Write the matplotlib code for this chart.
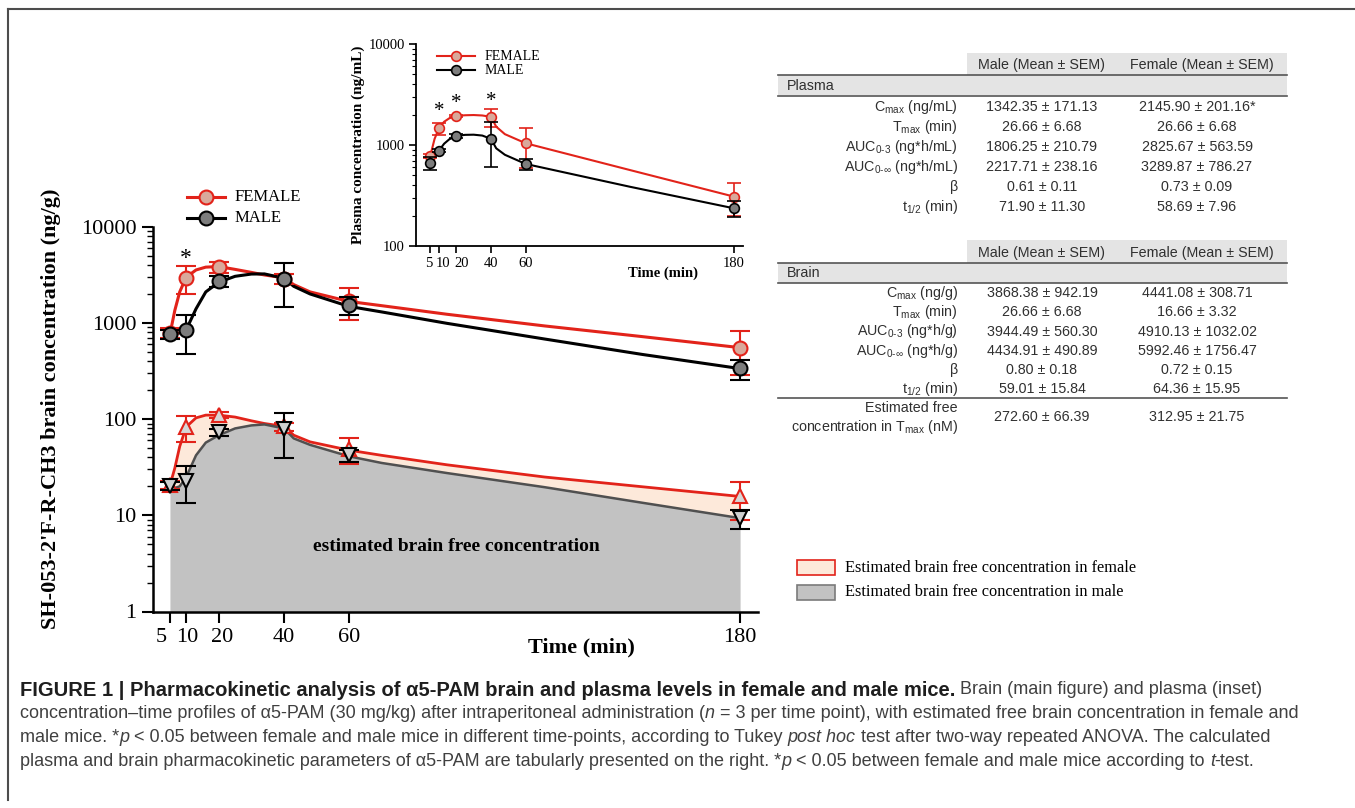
import numpy as np
import matplotlib.pyplot as plt
from matplotlib.patches import Rectangle
from matplotlib.lines import Line2D
from matplotlib.transforms import ScaledTranslation

plt.rcParams['font.family'] = 'Liberation Serif'
plt.rcParams['mathtext.fontset'] = 'custom'
plt.rcParams['mathtext.rm'] = 'Liberation Sans'
plt.rcParams['mathtext.it'] = 'Liberation Sans:italic'
plt.rcParams['mathtext.bf'] = 'Liberation Sans:bold'

W, H = 1355, 808

# brain (main figure), mean and SEM
t = [5, 10, 20, 40, 60, 180]
brain_f = [790, 2940, 3800, 2850, 1700, 551]
brain_f_sem = [90, 930, 475, 340, 620, 265]
brain_m = [760, 840, 2700, 2840, 1530, 337]
brain_m_sem = [80, 360, 360, 1390, 330, 79]
free_f = [20.7, 82, 110, 84, 48.5, 15.7]
free_f_sem = [2, 24.5, 8, 8, 14.5, 6.7]
free_m = [20.2, 23, 72.8, 78, 42, 9.3]
free_m_sem = [2, 9.7, 6, 38.5, 6, 2.1]

# fitted curves of the main figure
fit_t = [5, 6.5, 8, 10, 13, 16, 20, 25, 30, 34, 40, 43, 48, 60, 70, 90, 120, 150, 180]
fit_brain_f = [760, 1350, 2100, 2985, 3550, 3800, 3850, 3600, 3350, 3150, 2940, 2500, 2100, 1670, 1510, 1230, 930, 720, 553]
fit_brain_m = [745, 760, 790, 850, 1400, 2100, 2650, 3050, 3220, 3230, 2915, 2400, 2000, 1483, 1300, 990, 680, 470, 335]
fit_free_f = [20.5, 31, 52, 83, 103, 110, 110, 105, 96, 90, 84, 68, 58, 47.5, 42, 33.5, 25, 19.8, 15.7]
fit_free_m = [18.8, 19.2, 20, 25, 42, 57, 68, 80, 86, 88, 80, 63, 54, 41, 35, 27.5, 19.6, 13.5, 9.35]

# plasma (inset)
plasma_f = [778, 1462, 1937, 1880, 1040, 308]
plasma_f_sem = [40, 205, 60, 370, 450, 110]
plasma_m = [668, 879, 1228, 1146, 649, 236]
plasma_m_sem = [96, 35, 50, 535, 82, 42]
fit_pt = [5, 7.5, 10, 13, 16, 20, 25, 30, 35, 40, 43, 48, 60, 120, 180]
fit_plasma_f = [778, 1150, 1462, 1700, 1840, 1937, 1970, 1980, 1960, 1900, 1518, 1280, 1040, 565, 308]
fit_plasma_m = [668, 760, 879, 1030, 1140, 1228, 1260, 1265, 1240, 1150, 927, 800, 649, 386, 236]

# tables
plasma_par = ['C$_{\\mathrm{max}}$ (ng/mL)', 'T$_{\\mathrm{max}}$ (min)', 'AUC$_{\\mathrm{0\u20103}}$ (ng*h/mL)',
              'AUC$_{\\mathrm{0\u2010}\\infty}$ (ng*h/mL)', '\u03b2', 't$_{\\mathrm{1/2}}$ (min)']
plasma_male = ['1342.35 \u00b1 171.13', '26.66 \u00b1 6.68', '1806.25 \u00b1 210.79', '2217.71 \u00b1 238.16',
               '0.61 \u00b1 0.11', '71.90 \u00b1 11.30']
plasma_female = ['2145.90 \u00b1 201.16*', '26.66 \u00b1 6.68', '2825.67 \u00b1 563.59', '3289.87 \u00b1 786.27',
                 '0.73 \u00b1 0.09', '58.69 \u00b1 7.96']
brain_par = ['C$_{\\mathrm{max}}$ (ng/g)', 'T$_{\\mathrm{max}}$ (min)', 'AUC$_{\\mathrm{0\u20103}}$ (ng*h/g)',
             'AUC$_{\\mathrm{0\u2010}\\infty}$ (ng*h/g)', '\u03b2', 't$_{\\mathrm{1/2}}$ (min)']
brain_male = ['3868.38 \u00b1 942.19', '26.66 \u00b1 6.68', '3944.49 \u00b1 560.30', '4434.91 \u00b1 490.89',
              '0.80 \u00b1 0.18', '59.01 \u00b1 15.84']
brain_female = ['4441.08 \u00b1 308.71', '16.66 \u00b1 3.32', '4910.13 \u00b1 1032.02', '5992.46 \u00b1 1756.47',
                '0.72 \u00b1 0.15', '64.36 \u00b1 15.95']
free_male = '272.60 \u00b1 66.39'
free_female = '312.95 \u00b1 21.75'

RED = '#e2231a'
F_FACE = '#d9a99b'
M_FACE = '#7d7d7d'
PEACH = '#fde9da'
GRAY = '#c2c2c2'


def fx(x):
    return x / W


def fy(y):
    return 1 - y / H


def shift_labels(axis, offsets):
    # nudge single tick labels sideways, in pixels
    for tick, dx in zip(axis.get_major_ticks(), offsets):
        lab = tick.label1
        lab.set_transform(lab.get_transform() + ScaledTranslation(dx / 100, 0, fig.dpi_scale_trans))


fig = plt.figure(figsize=(W / 100, H / 100), dpi=100)

# ---- main axes
ax = fig.add_axes([fx(153), fy(611.5), fx(758 - 153), (611.5 - 226.7) / H])
ax.set_yscale('log')
ax.set_ylim(1, 10000)
ax.set_xlim(-0.2, 185.5)

ax.fill_between(fit_t, fit_free_m, fit_free_f, color=PEACH, lw=0, zorder=1)
ax.fill_between(fit_t, 1, fit_free_m, color=GRAY, lw=0, zorder=1.5)
ax.plot(fit_t, fit_free_f, color=RED, lw=2, zorder=2)
ax.plot(fit_t, fit_free_m, color='#505050', lw=1.8, zorder=2)
ax.errorbar(t, free_f, yerr=free_f_sem, fmt='none', ecolor=RED, elinewidth=1.5, capsize=7, capthick=1.5, zorder=3)
ax.plot(t, free_f, '^', ls='none', mfc='#d6d6d6', mec=RED, mew=1.5, ms=10, zorder=4)
ax.errorbar(t, free_m, yerr=free_m_sem, fmt='none', ecolor='black', elinewidth=1.5, capsize=7, capthick=1.5, zorder=5)
ax.plot(t, free_m, 'v', ls='none', mfc='#cfcfcf', mec='black', mew=1.5, ms=10, zorder=6)

ax.plot(fit_t, fit_brain_f, color=RED, lw=2.2, zorder=2)
ax.plot(fit_t, fit_brain_m, color='black', lw=2.2, zorder=2)
ax.errorbar(t, brain_f, yerr=brain_f_sem, fmt='none', ecolor=RED, elinewidth=1.5, capsize=7, capthick=1.5, zorder=3)
ax.plot(t, brain_f, 'o', ls='none', mfc=F_FACE, mec=RED, mew=1.5, ms=10, zorder=4)
ax.errorbar(t, brain_m, yerr=brain_m_sem, fmt='none', ecolor='black', elinewidth=1.5, capsize=7, capthick=1.5, zorder=5)
ax.plot(t, brain_m, 'o', ls='none', mfc=M_FACE, mec='black', mew=1.5, ms=10, zorder=6)

ax.text(10, 4700, '*', ha='center', va='center', fontsize=17)
ax.text(93, 4.7, 'estimated brain free concentration', ha='center', va='center',
        fontsize=14, fontweight='bold')

for s in ['top', 'right']:
    ax.spines[s].set_visible(False)
for s in ['left', 'bottom']:
    ax.spines[s].set_linewidth(1.8)
ax.set_xticks(t)
ax.set_xticklabels([str(v) for v in t])
ax.set_yticks([1, 10, 100, 1000, 10000])
ax.set_yticklabels(['1', '10', '100', '1000', '10000'])
ax.tick_params(which='major', direction='out', length=8, width=1.5, labelsize=16, pad=4)
ax.tick_params(which='minor', direction='out', length=4, width=1)
ax.tick_params(axis='x', which='minor', bottom=False)
shift_labels(ax.xaxis, [-9, 1, 3, 0, 0, 0])

fig.text(fx(51), fy(409), "SH-053-2'F-R-CH3 brain concentration (ng/g)", rotation=90,
         ha='center', va='center', fontsize=16, fontweight='bold')
fig.text(fx(581), fy(647), 'Time (min)', ha='center', va='center', fontsize=16, fontweight='bold')

# main legend
for yy, col, face, lab in [(197, RED, F_FACE, 'FEMALE'), (218, 'black', M_FACE, 'MALE')]:
    fig.add_artist(Line2D([fx(187), fx(225)], [fy(yy), fy(yy)], color=col, lw=2.2))
    fig.add_artist(Line2D([fx(206)], [fy(yy)], marker='o', ms=10, mfc=face, mec=col, mew=1.5))
    fig.text(fx(235), fy(yy), lab, ha='left', va='center', fontsize=12)

# ---- inset
ins = fig.add_axes([fx(416), fy(246), fx(743.3 - 416), (246 - 44) / H])
ins.patch.set_alpha(0)
ins.set_yscale('log')
ins.set_ylim(100, 10000)
ins.set_xlim(-3.2, 185.3)
ins.plot(fit_pt, fit_plasma_f, color=RED, lw=1.5, zorder=2)
ins.plot(fit_pt, fit_plasma_m, color='black', lw=1.5, zorder=2)
ins.errorbar(t, plasma_f, yerr=plasma_f_sem, fmt='none', ecolor=RED, elinewidth=1.2, capsize=5, capthick=1.2, zorder=3)
ins.plot(t, plasma_f, 'o', ls='none', mfc=F_FACE, mec=RED, mew=1.2, ms=7, zorder=4)
ins.errorbar(t, plasma_m, yerr=plasma_m_sem, fmt='none', ecolor='black', elinewidth=1.2, capsize=5, capthick=1.2, zorder=5)
ins.plot(t, plasma_m, 'o', ls='none', mfc=M_FACE, mec='black', mew=1.2, ms=7, zorder=6)
for tx, yv in [(10, 2137), (20, 2547), (40, 2684)]:
    ins.text(tx, yv, '*', ha='center', va='center', fontsize=15)
for s in ['top', 'right']:
    ins.spines[s].set_visible(False)
for s in ['left', 'bottom']:
    ins.spines[s].set_linewidth(1.3)
ins.set_xticks(t)
ins.set_xticklabels([str(v) for v in t])
ins.set_yticks([100, 1000, 10000])
ins.set_yticklabels(['100', '1000', '10000'])
ins.tick_params(which='major', direction='out', length=5, width=1.2, labelsize=10.5, pad=3)
ins.tick_params(which='minor', direction='out', length=3, width=0.8)
ins.tick_params(axis='x', which='minor', bottom=False)
shift_labels(ins.xaxis, [-1, 4, 5, 0, 0, 0])
fig.text(fx(358), fy(145), 'Plasma concentration (ng/mL)', rotation=90, ha='center', va='center',
         fontsize=11, fontweight='bold')
fig.text(fx(663), fy(273), 'Time (min)', ha='center', va='center', fontsize=10.5, fontweight='bold')
for yy, col, face, lab in [(56, RED, F_FACE, 'FEMALE'), (70, 'black', M_FACE, 'MALE')]:
    fig.add_artist(Line2D([fx(437), fx(475)], [fy(yy), fy(yy)], color=col, lw=1.5))
    fig.add_artist(Line2D([fx(456)], [fy(yy)], marker='o', ms=7, mfc=face, mec=col, mew=1.2))
    fig.text(fx(485), fy(yy), lab, ha='left', va='center', fontsize=10)

# ---- fill legend
for yy, face, edge, lab in [(567.5, PEACH, RED, 'Estimated brain free concentration in female'),
                            (592, GRAY, '#7a7a7a', 'Estimated brain free concentration in male')]:
    fig.add_artist(Rectangle((fx(797), fy(yy + 7.5)), fx(38), 15 / H, facecolor=face, edgecolor=edge, lw=1.2))
    fig.text(fx(845), fy(yy), lab, ha='left', va='center', fontsize=11.8)

# ---- tables
TXT = '#303030'
tkw = dict(family='Liberation Sans', fontsize=10.3, color=TXT, va='center')


def table(top, name, par, male, female, first, step):
    fig.add_artist(Rectangle((fx(967), fy(top + 22)), fx(320), 22 / H, facecolor='#e4e4e4', lw=0))
    fig.add_artist(Rectangle((fx(778), fy(top + 42)), fx(509), 20 / H, facecolor='#e4e4e4', lw=0))
    for yy in [top + 22, top + 42.5]:
        fig.add_artist(Line2D([fx(778), fx(1287)], [fy(yy), fy(yy)], color='#555555', lw=1.2))
    fig.text(fx(1042), fy(top + 12), 'Male (Mean \u00b1 SEM)', ha='center', **tkw)
    fig.text(fx(1202), fy(top + 12), 'Female (Mean \u00b1 SEM)', ha='center', **tkw)
    fig.text(fx(787), fy(top + 32.5), name, ha='left', **tkw)
    for i in range(len(par)):
        yy = first + i * step
        fig.text(fx(958), fy(yy), par[i], ha='right', **tkw)
        fig.text(fx(1042), fy(yy), male[i], ha='center', **tkw)
        fig.text(fx(1197), fy(yy), female[i], ha='center', **tkw)


table(53, 'Plasma', plasma_par, plasma_male, plasma_female, 107.3, 19.9)
table(240.5, 'Brain', brain_par, brain_male, brain_female, 293.3, 19.1)
fig.add_artist(Line2D([fx(778), fx(1287)], [fy(398.3), fy(398.3)], color='#555555', lw=1.2))
fig.text(fx(958), fy(408.3), 'Estimated free', ha='right', **tkw)
fig.text(fx(958), fy(426.7), 'concentration in T$_{\\mathrm{max}}$ (nM)', ha='right', **tkw)
fig.text(fx(1042), fy(416.7), free_male, ha='center', **tkw)
fig.text(fx(1197), fy(416.7), free_female, ha='center', **tkw)

# ---- frame
fig.add_artist(Line2D([fx(8), fx(8)], [fy(9), fy(800)], color='#4d4d4d', lw=1.5))
fig.add_artist(Line2D([fx(8), 1], [fy(9), fy(9)], color='#4d4d4d', lw=1.5))

# ---- caption
renderer = fig.canvas.get_renderer()
ckw = dict(family='Liberation Sans', va='center')


def rich_line(y, parts):
    x = fx(20)
    for s, style in parts:
        kw = dict(ckw)
        if style == 'b':
            kw.update(fontweight='bold', color='#1e1e1e', fontsize=14.5)
        elif style == 'i':
            kw.update(style='italic', color='#404040', fontsize=13)
        else:
            kw.update(color='#404040', fontsize=13)
        txt = fig.text(x, fy(y), s, **kw)
        x += txt.get_window_extent(renderer).width / W


rich_line(690, [('FIGURE 1 | Pharmacokinetic analysis of \u03b15-PAM brain and plasma levels in female and male mice.', 'b'),
                (' Brain (main figure) and plasma (inset)', 'n')])
rich_line(714, [('concentration\u2013time profiles of \u03b15-PAM (30 mg/kg) after intraperitoneal administration (', 'n'),
                ('n', 'i'), (' = 3 per time point), with estimated free brain concentration in female and', 'n')])
rich_line(738, [('male mice. *', 'n'), ('p', 'i'),
                (' < 0.05 between female and male mice in different time-points, according to Tukey ', 'n'),
                ('post hoc', 'i'), (' test after two-way repeated ANOVA. The calculated', 'n')])
rich_line(762, [('plasma and brain pharmacokinetic parameters of \u03b15-PAM are tabularly presented on the right. *', 'n'),
                ('p', 'i'), (' < 0.05 between female and male mice according to ', 'n'), ('t', 'i'), ('-test.', 'n')])

fig.savefig('out.png', dpi=100)
